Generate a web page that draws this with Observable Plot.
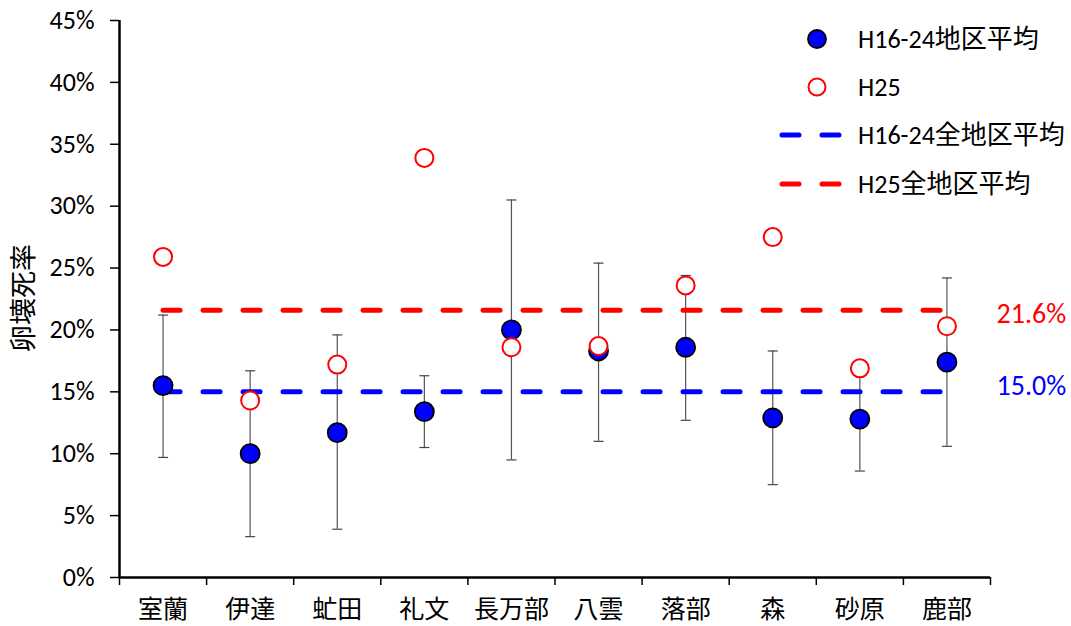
<!DOCTYPE html>
<html><head><meta charset="utf-8">
<script src="https://cdn.jsdelivr.net/npm/d3@7"></script>
<script src="https://cdn.jsdelivr.net/npm/@observablehq/plot@0.6"></script>
<style>
body{margin:0;background:#fff;}
#chart svg{font-family:Calibri,Carlito,"Open Sans","Noto Sans CJK JP",sans-serif;}
</style></head>
<body><div id="chart"></div>
<script>
const categories = ["室蘭","伊達","虻田","礼文","長万部","八雲","落部","森","砂原","鹿部"];
const avgH16_24 = [0.155,0.100,0.117,0.134,0.200,0.183,0.186,0.129,0.128,0.174];
const errHigh   = [0.212,0.167,0.196,0.163,0.305,0.254,0.244,0.183,0.168,0.242];
const errLow    = [0.097,0.033,0.039,0.105,0.095,0.110,0.127,0.075,0.086,0.106];
const valH25    = [0.259,0.143,0.172,0.339,0.186,0.187,0.236,0.275,0.169,0.203];
const meanH16_24 = 0.150;
const meanH25 = 0.216;
const yTicks = [0,0.05,0.10,0.15,0.20,0.25,0.30,0.35,0.40,0.45];
const yLabel = "卵壊死率";
const legendLabels = ["H16-24地区平均","H25","H16-24全地区平均","H25全地区平均"];

const data = categories.map((c,i)=>({c, pos:i+0.5, avg:avgH16_24[i], hi:errHigh[i], lo:errLow[i], h25:valH25[i]}));
const cjk = "'Noto Sans CJK JP',sans-serif";
const latin = "Calibri,Carlito,'Noto Sans CJK JP',sans-serif";
const capSymbol = {draw(ctx){ ctx.moveTo(-5,0); ctx.lineTo(5,0); }};
const dash = "17,23";

const plot = Plot.plot({
  width:1071, height:626,
  marginLeft:119, marginRight:81, marginTop:20, marginBottom:49,
  style:{fontSize:"25px", color:"#000", background:"#fff"},
  x:{domain:[0,10], axis:null},
  y:{domain:[0,0.45], axis:null},
  marks:[
    Plot.axisY({ticks:yTicks, tickFormat:d3.format(".0%"), tickSize:9, tickPadding:16, strokeWidth:1.5, label:null, fontSize:26, fontFamily:latin}),
    Plot.axisX({ticks:d3.range(0,11), tickFormat:()=>"", tickSize:8, strokeWidth:1.5, label:null}),
    Plot.axisX({ticks:data.map(d=>d.pos), tickFormat:(v)=>categories[Math.round(v-0.5)], tickSize:0, tickPadding:23, label:null, fontSize:25, fontFamily:cjk}),
    Plot.ruleX([0],{y1:0,y2:0.45,strokeWidth:2.5}),
    Plot.ruleY([0],{x1:0,x2:10,strokeWidth:2.5}),
    Plot.ruleX(data,{x:"pos", y1:"lo", y2:"hi", stroke:"#555", strokeWidth:1.2}),
    Plot.dot(data,{x:"pos", y:"hi", symbol:capSymbol, stroke:"#444", strokeWidth:1.2}),
    Plot.dot(data,{x:"pos", y:"lo", symbol:capSymbol, stroke:"#444", strokeWidth:1.2}),
    Plot.lineY(data,{x:"pos", y:()=>meanH25, stroke:"#ff0000", strokeWidth:5, strokeDasharray:dash, strokeLinecap:"round"}),
    Plot.lineY(data,{x:"pos", y:()=>meanH16_24, stroke:"#0000ff", strokeWidth:5, strokeDasharray:dash, strokeLinecap:"round"}),
    Plot.dot(data,{x:"pos", y:"avg", r:9.5, fill:"#0000ff", stroke:"#000", strokeWidth:1.8}),
    Plot.dot(data,{x:"pos", y:"h25", r:9, fill:"#fff", stroke:"#ff0000", strokeWidth:2}),
    Plot.text([meanH25],{x:()=>10, y:d=>d, text:d=>d3.format(".1%")(d), textAnchor:"start", dx:6, dy:4, fill:"#ff0000", fontSize:28, fontFamily:latin}),
    Plot.text([meanH16_24],{x:()=>10, y:d=>d, text:d=>d3.format(".1%")(d), textAnchor:"start", dx:6, dy:-6, fill:"#0000ff", fontSize:28, fontFamily:latin})
  ]
});
document.getElementById("chart").appendChild(plot);

const svg = d3.select(plot);
// y-axis title
svg.append("text").attr("transform","translate(24,298) rotate(-90)").attr("text-anchor","middle").attr("dy","0.35em")
  .attr("font-family",cjk).attr("font-size",27).attr("fill","#000").text(yLabel);

// legend inside the SVG
const lg = svg.append("g").attr("font-size",26).attr("text-anchor","start");
const rows = [39,87,135,184];
lg.append("circle").attr("cx",817).attr("cy",rows[0]).attr("r",9).attr("fill","#0000ff").attr("stroke","#000").attr("stroke-width",1.8);
lg.append("circle").attr("cx",817).attr("cy",rows[1]).attr("r",8.5).attr("fill","#fff").attr("stroke","#ff0000").attr("stroke-width",2);
[["#0000ff",rows[2]],["#ff0000",rows[3]]].forEach(([c,y])=>{
  lg.append("line").attr("x1",782).attr("x2",841).attr("y1",y).attr("y2",y).attr("stroke",c).attr("stroke-width",5).attr("stroke-linecap","round").attr("stroke-dasharray","17,23");
});
legendLabels.forEach((t,i)=>{
  lg.append("text").attr("x",858).attr("y",rows[i]).attr("dy","0.35em").attr("font-family",latin).attr("fill","#000").text(t);
});
</script></body></html>
